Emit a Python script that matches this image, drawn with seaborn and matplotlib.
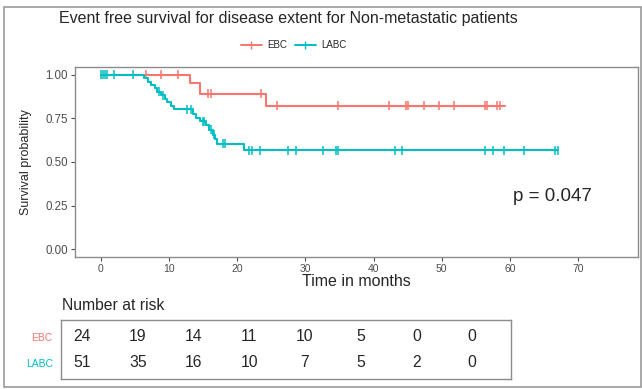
import numpy as np
import pandas as pd
import matplotlib
matplotlib.use("Agg")
import matplotlib.pyplot as plt
from matplotlib.patches import Rectangle
import seaborn as sns

# Kaplan-Meier step curves (time in months, survival)
ebc_times = [0, 13.1, 14.5, 24.2]
ebc_surv = [1.0, 0.952, 0.891, 0.823]
ebc_end = 59.2
ebc_censor = [6.6, 8.9, 11.3, 15.7, 16.2, 23.5, 25.9, 34.8, 42.2, 44.7, 45.0,
              47.4, 49.6, 51.8, 56.4, 56.6, 58.1, 58.6]

labc_times = [0, 6.3, 6.9, 7.4, 7.9, 8.3, 8.9, 9.4, 9.8, 10.3, 10.7,
              13.5, 14.0, 14.6, 15.4, 15.9, 16.4, 16.8, 17.1, 21.0]
labc_surv = [1.0, 0.980, 0.961, 0.941, 0.922, 0.902, 0.882, 0.863, 0.843, 0.824, 0.804,
             0.775, 0.750, 0.733, 0.712, 0.686, 0.657, 0.633, 0.606, 0.567]
labc_end = 67.0
labc_censor = [0.0, 0.4, 0.7, 1.0, 2.0, 4.8, 8.6, 9.2, 12.7, 13.3, 15.0, 15.2,
               16.2, 16.6, 18.0, 18.3, 21.7, 22.2, 23.3, 27.5, 28.6, 32.6, 34.5,
               34.8, 43.1, 44.1, 56.4, 57.5, 59.1, 62.1, 66.6, 67.0]

# number at risk table
risk_times = [0, 10, 20, 30, 40, 50, 60, 70]
ebc_risk = [24, 19, 14, 11, 10, 5, 0, 0]
labc_risk = [51, 35, 16, 10, 7, 5, 2, 0]

groups = ["EBC", "LABC"]
colors = {"EBC": "#F8766D", "LABC": "#00BFC4"}


def curve(name, times, surv, end):
    t = list(times) + [end]
    s = list(surv) + [surv[-1]]
    return pd.DataFrame({"time": t, "surv": s, "group": name})


def censor(name, times, surv, ctimes):
    idx = np.searchsorted(times, ctimes, side="right") - 1
    return pd.DataFrame({"time": ctimes, "surv": np.array(surv)[idx], "group": name})


curves = pd.concat([curve("EBC", ebc_times, ebc_surv, ebc_end),
                    curve("LABC", labc_times, labc_surv, labc_end)])
marks = pd.concat([censor("EBC", ebc_times, ebc_surv, ebc_censor),
                   censor("LABC", labc_times, labc_surv, labc_censor)])

sns.set_style("white")
plt.rcParams["font.family"] = ["Liberation Sans", "DejaVu Sans"]

fig = plt.figure(figsize=(6.42, 3.89), dpi=100)
fig.patches.append(Rectangle((4 / 642, 2 / 389), 637 / 642, 380 / 389,
                             transform=fig.transFigure, fill=False,
                             edgecolor="#9a9a9a", lw=1.2))

ax = fig.add_axes([75 / 642, 1 - 257 / 389, 563 / 642, 190 / 389])
sns.lineplot(data=curves, x="time", y="surv", hue="group", palette=colors,
             hue_order=groups, drawstyle="steps-post", estimator=None,
             lw=1.5, ax=ax, legend=False)
sns.scatterplot(data=marks, x="time", y="surv", hue="group", palette=colors,
                hue_order=groups, marker="|", s=42, linewidth=1.1, ax=ax,
                legend=False)

ax.set_xlim(-3.75, 78.75)
ax.set_ylim(-0.045, 1.045)
ax.set_xticks(risk_times)
ax.set_yticks([0, 0.25, 0.5, 0.75, 1.0])
ax.set_yticklabels(["0.00", "0.25", "0.50", "0.75", "1.00"])
ax.tick_params(axis="both", colors="#4d4d4d", length=3,
               width=0.8, direction="out", left=True, bottom=True, pad=2)
ax.tick_params(axis="x", labelsize=7.5)
ax.tick_params(axis="y", labelsize=8.3)
for sp in ax.spines.values():
    sp.set_color("#8c8c8c")
    sp.set_linewidth(1.0)
ax.set_xlabel("Time in months", fontsize=11.5, labelpad=0)
ax.set_ylabel("Survival probability", fontsize=9, labelpad=10)
ax.text(66.2, 0.30, "p = 0.047", fontsize=13.5, ha="center", va="center")

fig.text(0.449, 1 - 18 / 389, "Event free survival for disease extent for Non-metastatic patients",
         fontsize=11.5, ha="center", va="center")

# legend drawn by hand with line + tick glyphs
handles = [plt.Line2D([], [], color=colors[g], lw=1.4, marker="|", markersize=6) for g in groups]
fig.legend(handles, groups, loc="center", bbox_to_anchor=(0.457, 1 - 45 / 389),
           ncol=2, frameon=False, fontsize=7, handlelength=2.2, columnspacing=0.8,
           handletextpad=0.5)

# number at risk
fig.text(62 / 642, 1 - 305 / 389, "Number at risk", fontsize=11.3, va="center")
rax = fig.add_axes([61 / 642, 1 - 379 / 389, 450 / 642, 59 / 389])
rax.set_xlim(-3.8, 77.0)
rax.set_ylim(1.62, -0.65)
for i, (g, vals) in enumerate(zip(groups, [ebc_risk, labc_risk])):
    for t, v in zip(risk_times, vals):
        rax.text(t, i, str(v), fontsize=11.3, ha="center", va="center")
rax.set_xticks([])
rax.set_yticks([0, 1])
rax.set_yticklabels(groups, fontsize=7.5)
for lab, g in zip(rax.get_yticklabels(), groups):
    lab.set_color(colors[g])
rax.tick_params(axis="y", length=0, pad=6)
for sp in rax.spines.values():
    sp.set_color("#8c8c8c")
    sp.set_linewidth(1.0)

fig.savefig("out.png", dpi=100)
